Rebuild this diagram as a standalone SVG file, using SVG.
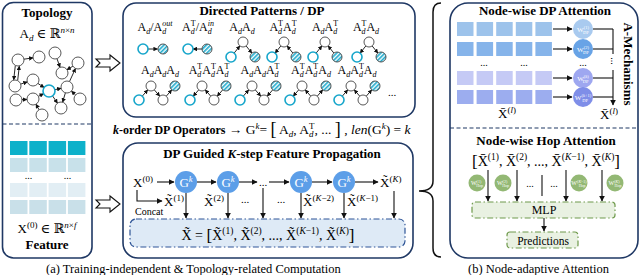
<svg xmlns="http://www.w3.org/2000/svg" width="640" height="275" viewBox="0 0 640 275">
<defs>
<style>
text{font-family:"Liberation Serif","Times New Roman","DejaVu Serif",serif}
.ttl{font-weight:bold;font-size:13px}
.pl{font-size:12px}
.s{font-size:8px}
.i{font-style:italic}
.panel{fill:#fff;stroke:#1f3864;stroke-width:1.6}
.div{stroke:#1f3864;stroke-width:1.2;stroke-dasharray:4 2.5}
.gn{fill:#fff;stroke:#444;stroke-width:0.9}
.cn{fill:#fff;stroke:#17a6cb;stroke-width:1.6}
.hn{fill:url(#hatch);stroke:#444;stroke-width:0.9}
.e{stroke:#111;stroke-width:0.9;fill:none;marker-end:url(#ah)}
.a{stroke:#111;stroke-width:1.1;fill:none;marker-end:url(#ah2)}
.ln{stroke:#111;stroke-width:1.1;fill:none}
.wt{fill:#fff}
.dd{stroke-width:1.2;stroke-dasharray:6 2.5 1.5 2.5}
</style>
<pattern id="hatch" patternUnits="userSpaceOnUse" width="3" height="3" patternTransform="rotate(45)"><rect width="3" height="3" fill="#fff"/><rect width="1.6" height="3" fill="#1aa9cc"/></pattern>
<marker id="ah" viewBox="0 0 10 10" refX="9" refY="5" markerWidth="4.5" markerHeight="4.5" markerUnits="userSpaceOnUse" orient="auto"><path d="M0,0 L10,5 L0,10 z" fill="#111"/></marker>
<marker id="ah2" viewBox="0 0 10 10" refX="9" refY="5" markerWidth="6" markerHeight="6" markerUnits="userSpaceOnUse" orient="auto"><path d="M0,0 L10,5 L0,10 z" fill="#111"/></marker>
</defs>
<rect width="640" height="275" fill="#fff"/>

<!-- Left panel -->
<g id="left-panel">
<rect x="2.5" y="2.5" width="89.5" height="255.5" rx="11" class="panel"/>
<line x1="2.5" y1="124" x2="92" y2="124" class="div"/>
<text x="47" y="17" class="ttl" font-size="14" text-anchor="middle">Topology</text>
<text x="47" y="38" font-size="13" text-anchor="middle">A<tspan class="i" font-size="9" dy="2.5">d</tspan><tspan dy="-2.5"> ∈ ℝ</tspan><tspan class="i" font-size="9" dy="-5">n</tspan><tspan font-size="9">×</tspan><tspan class="i" font-size="9">n</tspan></text>
</g>

<g id="topology-graph">
<g>
<line x1="23.9" y1="59.2" x2="33.1" y2="57.8" class="e"/>
<line x1="15.3" y1="65.7" x2="13.7" y2="79.8" class="e"/>
<line x1="17.7" y1="80.3" x2="19.3" y2="66.2" class="e"/>
<line x1="20.7" y1="84.1" x2="27.3" y2="81.9" class="e"/>
<line x1="37.9" y1="83.4" x2="44.1" y2="87.6" class="e"/>
<line x1="22" y1="99.6" x2="27" y2="99.4" class="e"/>
<line x1="38.4" y1="96.3" x2="43.6" y2="93.7" class="e"/>
<line x1="39.1" y1="109.8" x2="35.9" y2="104.2" class="e"/>
<line x1="54.9" y1="89.7" x2="61.1" y2="88.3" class="e"/>
<line x1="57" y1="58.7" x2="60" y2="67.3" class="e"/>
<line x1="72.9" y1="66.2" x2="66.9" y2="69.8" class="e"/>
<line x1="69.5" y1="81.5" x2="75.5" y2="68.5" class="e"/>
<line x1="65.4" y1="92.8" x2="62.6" y2="102.2" class="e"/>
<line x1="75.6" y1="94.9" x2="71.4" y2="91.1" class="e"/>
<line x1="52.5" y1="95.9" x2="57.5" y2="103.1" class="e"/>
</g>
<circle cx="18" cy="60" r="6" class="gn"/>
<circle cx="39" cy="57" r="6" class="gn"/>
<circle cx="55" cy="53" r="6" class="gn"/>
<circle cx="78" cy="63" r="6" class="gn"/>
<circle cx="62" cy="73" r="6" class="gn"/>
<circle cx="15" cy="86" r="6" class="gn"/>
<circle cx="33" cy="80" r="6" class="gn"/>
<circle cx="49" cy="91" r="6" class="cn"/>
<circle cx="67" cy="87" r="6" class="gn"/>
<circle cx="16" cy="100" r="6" class="gn"/>
<circle cx="33" cy="99" r="6" class="gn"/>
<circle cx="61" cy="108" r="6" class="gn"/>
<circle cx="80" cy="99" r="6" class="gn"/>
<circle cx="42" cy="115" r="6" class="gn"/>
</g>

<g id="feature">
<g fill="#0db1ca"><rect x="10" y="141" width="17.5" height="14"/><rect x="29.3" y="141" width="17.5" height="14"/><rect x="48.6" y="141" width="17.5" height="14"/><rect x="67.9" y="141" width="17.5" height="14"/></g>
<g fill="#c8e1ea"><rect x="10" y="158" width="17.5" height="14"/><rect x="29.3" y="158" width="17.5" height="14"/><rect x="48.6" y="158" width="17.5" height="14"/><rect x="67.9" y="158" width="17.5" height="14"/></g>
<text x="28.5" y="179" font-size="10" text-anchor="middle">...</text>
<text x="67.5" y="179" font-size="10" text-anchor="middle">...</text>
<g fill="#e2eef4"><rect x="10" y="183" width="17.5" height="14"/><rect x="29.3" y="183" width="17.5" height="14"/><rect x="48.6" y="183" width="17.5" height="14"/><rect x="67.9" y="183" width="17.5" height="14"/></g>
<g fill="#c9e0e9"><rect x="10" y="200" width="17.5" height="14"/><rect x="29.3" y="200" width="17.5" height="14"/><rect x="48.6" y="200" width="17.5" height="14"/><rect x="67.9" y="200" width="17.5" height="14"/></g>
<text x="47" y="233" font-size="13" text-anchor="middle">X<tspan font-size="9" dy="-5">(0)</tspan><tspan dy="5"> ∈ ℝ</tspan><tspan class="i" font-size="9" dy="-5">n</tspan><tspan font-size="9">×</tspan><tspan class="i" font-size="9">f</tspan></text>
<text x="47" y="249" class="ttl" text-anchor="middle">Feature</text>
</g>

<g id="connectors-main">
<path d="M96,59 L110,59 L110,55 L120,63 L110,71 L110,67 L96,67 L100,63 Z" fill="#fff" stroke="#111" stroke-width="1.1"/>
<path d="M96,200 L110,200 L110,196 L120,204 L110,212 L110,208 L96,208 L100,204 Z" fill="#fff" stroke="#111" stroke-width="1.1"/>
<path d="M441,3 Q433,3 433,12 L433,181 Q433,191 419,191 Q433,191 433,201 L433,248 Q433,257 441,257" fill="none" stroke="#111" stroke-width="1.5"/>
</g>

<!-- Directed patterns panel -->
<g id="dp-panel">
<rect x="123" y="3" width="292" height="114" rx="13" class="panel"/>
<text x="262" y="15" class="ttl" text-anchor="middle">Directed Patterns / DP</text>
</g>

<g id="dp-patterns">
<text x="155" y="31" class="pl" text-anchor="middle">A<tspan class="s i" dy="3">d</tspan><tspan dy="-3">/A</tspan><tspan class="s i" dy="3">d</tspan><tspan class="s i" dx="-4" dy="-8">out</tspan></text>
<text x="198" y="31" class="pl" text-anchor="middle">A<tspan class="s i" dy="3">d</tspan><tspan class="s" dx="-4" dy="-8">T</tspan><tspan dy="5">/A</tspan><tspan class="s i" dy="3">d</tspan><tspan class="s i" dx="-4" dy="-8">in</tspan></text>
<text x="242" y="31" class="pl" text-anchor="middle">A<tspan class="s i" dy="3">d</tspan><tspan dy="-3">A</tspan><tspan class="s i" dy="3">d</tspan></text>
<text x="283" y="31" class="pl" text-anchor="middle">A<tspan class="s i" dy="3">d</tspan><tspan class="s" dx="-4" dy="-8">T</tspan><tspan dy="5">A</tspan><tspan class="s i" dy="3">d</tspan><tspan class="s" dx="-4" dy="-8">T</tspan></text>
<text x="325" y="31" class="pl" text-anchor="middle">A<tspan class="s i" dy="3">d</tspan><tspan dy="-3">A</tspan><tspan class="s i" dy="3">d</tspan><tspan class="s" dx="-4" dy="-8">T</tspan></text>
<text x="366" y="31" class="pl" text-anchor="middle">A<tspan class="s i" dy="3">d</tspan><tspan class="s" dx="-4" dy="-8">T</tspan><tspan dy="5">A</tspan><tspan class="s i" dy="3">d</tspan></text>
<line x1="148" y1="49" x2="157.5" y2="49" class="e"/>
<circle cx="143" cy="49" r="5" class="cn"/><circle cx="163" cy="49" r="5" class="hn"/>
<line x1="202" y1="49" x2="193" y2="49" class="e"/>
<circle cx="188" cy="49" r="5" class="cn"/><circle cx="207" cy="49" r="5" class="hn"/>
<g transform="translate(243,0)">
<line x1="-8.88" y1="53.1" x2="-3.12" y2="45.9" class="e"/><line x1="3.12" y1="45.9" x2="8.88" y2="53.1" class="e"/>
<circle cx="0" cy="42" r="5" class="gn"/><circle cx="-12" cy="57" r="5" class="cn"/><circle cx="12" cy="57" r="5" class="hn"/>
</g>
<g transform="translate(284,0)">
<line x1="-3.12" y1="45.9" x2="-8.88" y2="53.1" class="e"/><line x1="8.88" y1="53.1" x2="3.12" y2="45.9" class="e"/>
<circle cx="0" cy="42" r="5" class="gn"/><circle cx="-12" cy="57" r="5" class="cn"/><circle cx="12" cy="57" r="5" class="hn"/>
</g>
<g transform="translate(325,0)">
<line x1="-8.88" y1="53.1" x2="-3.12" y2="45.9" class="e"/><line x1="8.88" y1="53.1" x2="3.12" y2="45.9" class="e"/>
<circle cx="0" cy="42" r="5" class="gn"/><circle cx="-12" cy="57" r="5" class="cn"/><circle cx="12" cy="57" r="5" class="hn"/>
</g>
<g transform="translate(369,0)">
<line x1="-3.12" y1="45.9" x2="-8.88" y2="53.1" class="e"/><line x1="3.12" y1="45.9" x2="8.88" y2="53.1" class="e"/>
<circle cx="0" cy="42" r="5" class="gn"/><circle cx="-12" cy="57" r="5" class="cn"/><circle cx="12" cy="57" r="5" class="hn"/>
</g>
<text x="160" y="74" class="pl" text-anchor="middle">A<tspan class="s i" dy="3">d</tspan><tspan dy="-3">A</tspan><tspan class="s i" dy="3">d</tspan><tspan dy="-3">A</tspan><tspan class="s i" dy="3">d</tspan></text>
<text x="209" y="74" class="pl" text-anchor="middle">A<tspan class="s i" dy="3">d</tspan><tspan class="s" dx="-4" dy="-8">T</tspan><tspan dy="5">A</tspan><tspan class="s i" dy="3">d</tspan><tspan class="s" dx="-4" dy="-8">T</tspan><tspan dy="5">A</tspan><tspan class="s i" dy="3">d</tspan><tspan class="s" dx="-4" dy="-8">T</tspan></text>
<text x="260" y="74" class="pl" text-anchor="middle">A<tspan class="s i" dy="3">d</tspan><tspan dy="-3">A</tspan><tspan class="s i" dy="3">d</tspan><tspan dy="-3">A</tspan><tspan class="s i" dy="3">d</tspan><tspan class="s" dx="-4" dy="-8">T</tspan></text>
<text x="311" y="74" class="pl" text-anchor="middle">A<tspan class="s i" dy="3">d</tspan><tspan class="s" dx="-4" dy="-8">T</tspan><tspan dy="5">A</tspan><tspan class="s i" dy="3">d</tspan><tspan class="s" dx="-4" dy="-8">T</tspan><tspan dy="5">A</tspan><tspan class="s i" dy="3">d</tspan></text>
<text x="357" y="74" class="pl" text-anchor="middle">A<tspan class="s i" dy="3">d</tspan><tspan dy="-3">A</tspan><tspan class="s i" dy="3">d</tspan><tspan class="s" dx="-4" dy="-8">T</tspan><tspan dy="5">A</tspan><tspan class="s i" dy="3">d</tspan></text>
<g transform="translate(139,0)">
<line x1="3.25" y1="96.2" x2="8.75" y2="89.8" class="e"/><line x1="15.25" y1="89.8" x2="20.75" y2="96.2" class="e"/><line x1="27.25" y1="96.2" x2="32.75" y2="89.8" class="e"/>
<circle cx="0" cy="100" r="5" class="cn"/><circle cx="12" cy="86" r="5" class="gn"/><circle cx="24" cy="100" r="5" class="gn"/><circle cx="36" cy="86" r="5" class="hn"/>
</g>
<g transform="translate(190,0)">
<line x1="8.75" y1="89.8" x2="3.25" y2="96.2" class="e"/><line x1="20.75" y1="96.2" x2="15.25" y2="89.8" class="e"/><line x1="32.75" y1="89.8" x2="27.25" y2="96.2" class="e"/>
<circle cx="0" cy="100" r="5" class="cn"/><circle cx="12" cy="86" r="5" class="gn"/><circle cx="24" cy="100" r="5" class="gn"/><circle cx="36" cy="86" r="5" class="hn"/>
</g>
<g transform="translate(240,0)">
<line x1="3.25" y1="96.2" x2="8.75" y2="89.8" class="e"/><line x1="15.25" y1="89.8" x2="20.75" y2="96.2" class="e"/><line x1="32.75" y1="89.8" x2="27.25" y2="96.2" class="e"/>
<circle cx="0" cy="100" r="5" class="cn"/><circle cx="12" cy="86" r="5" class="gn"/><circle cx="24" cy="100" r="5" class="gn"/><circle cx="36" cy="86" r="5" class="hn"/>
</g>
<g transform="translate(290,0)">
<line x1="8.75" y1="89.8" x2="3.25" y2="96.2" class="e"/><line x1="20.75" y1="96.2" x2="15.25" y2="89.8" class="e"/><line x1="27.25" y1="96.2" x2="32.75" y2="89.8" class="e"/>
<circle cx="0" cy="100" r="5" class="cn"/><circle cx="12" cy="86" r="5" class="gn"/><circle cx="24" cy="100" r="5" class="gn"/><circle cx="36" cy="86" r="5" class="hn"/>
</g>
<g transform="translate(339,0)">
<line x1="3.25" y1="96.2" x2="8.75" y2="89.8" class="e"/><line x1="20.75" y1="96.2" x2="15.25" y2="89.8" class="e"/><line x1="27.25" y1="96.2" x2="32.75" y2="89.8" class="e"/>
<circle cx="0" cy="100" r="5" class="cn"/><circle cx="12" cy="86" r="5" class="gn"/><circle cx="24" cy="100" r="5" class="gn"/><circle cx="36" cy="86" r="5" class="hn"/>
</g>
<text x="392" y="96" font-size="11" text-anchor="middle">...</text>
</g>

<g id="operator-line">
<text x="113" y="134" font-size="12"><tspan font-weight="bold"><tspan class="i">k</tspan>-order DP Operators</tspan><tspan font-size="13.5"> → G</tspan><tspan font-size="9" class="i" dy="-5">k</tspan><tspan font-size="13.5" dy="5">= </tspan><tspan font-size="18" dy="1">[</tspan><tspan font-size="13.5" dy="-1"> A</tspan><tspan font-size="9" class="i" dy="3">d</tspan><tspan font-size="13.5" dy="-3">, A</tspan><tspan font-size="9" class="i" dy="3">d</tspan><tspan font-size="9" dx="-4.5" dy="-8.5">T</tspan><tspan font-size="13.5" dy="5.5">, ... </tspan><tspan font-size="18" dy="1">]</tspan><tspan font-size="13.5" dy="-1"> , </tspan><tspan font-size="13.5" class="i">len</tspan><tspan font-size="13.5">(G</tspan><tspan font-size="9" dy="-5" class="i">k</tspan><tspan font-size="13.5" dy="5">) = </tspan><tspan font-size="13.5" class="i">k</tspan></text>
</g>

<!-- Propagation panel -->
<g id="prop-panel">
<rect x="123" y="143" width="290" height="115" rx="15" class="panel"/>
<text x="272" y="158" class="ttl" text-anchor="middle">DP Guided <tspan class="i">K</tspan>-step Feature Propagation</text>
<rect x="130" y="219" width="275" height="28" rx="6" fill="#deeaf6" stroke="#2f5597" class="dd"/>
<text x="268" y="240" font-size="14" text-anchor="middle">X̃ = <tspan font-size="17" dy="1">[</tspan><tspan dy="-1">X̃</tspan><tspan font-size="9.5" dy="-6">(1)</tspan><tspan dy="6">, X̃</tspan><tspan font-size="9.5" dy="-6">(2)</tspan><tspan dy="6">, ..., X̃</tspan><tspan font-size="9.5" dy="-6">(<tspan class="i">K</tspan>−1)</tspan><tspan dy="6">, X̃</tspan><tspan font-size="9.5" dy="-6">(<tspan class="i">K</tspan>)</tspan><tspan font-size="17" dy="7">]</tspan></text>
</g>

<g id="prop-nodes">
<text x="133" y="187" font-size="13">X<tspan font-size="9" dy="-5">(0)</tspan></text>
<g id="g1"><circle cx="186" cy="182" r="11" fill="#5c9ee8"/><text x="186" y="186.5" font-size="13" text-anchor="middle" class="wt" font-family="Liberation Sans, Arial, sans-serif">G<tspan font-size="8.5" dy="-5" class="i">k</tspan></text></g>
<g id="g2"><circle cx="228" cy="182" r="11" fill="#5c9ee8"/><text x="228" y="186.5" font-size="13" text-anchor="middle" class="wt" font-family="Liberation Sans, Arial, sans-serif">G<tspan font-size="8.5" dy="-5" class="i">k</tspan></text></g>
<g id="g3"><circle cx="301" cy="182" r="11" fill="#5c9ee8"/><text x="301" y="186.5" font-size="13" text-anchor="middle" class="wt" font-family="Liberation Sans, Arial, sans-serif">G<tspan font-size="8.5" dy="-5" class="i">k</tspan></text></g>
<g id="g4"><circle cx="344" cy="182" r="11" fill="#5c9ee8"/><text x="344" y="186.5" font-size="13" text-anchor="middle" class="wt" font-family="Liberation Sans, Arial, sans-serif">G<tspan font-size="8.5" dy="-5" class="i">k</tspan></text></g>
<text x="380" y="187" font-size="13">X̃<tspan font-size="9" dy="-5">(<tspan class="i">K</tspan>)</tspan></text>
<text x="164" y="206" font-size="13">X̃<tspan font-size="9" dy="-5">(1)</tspan></text>
<text x="204" y="206" font-size="13">X̃<tspan font-size="9" dy="-5">(2)</tspan></text>
<text x="303" y="206" font-size="13">X̃<tspan font-size="9" dy="-5">(<tspan class="i">K</tspan>−2)</tspan></text>
<text x="347" y="206" font-size="13">X̃<tspan font-size="9" dy="-5">(<tspan class="i">K</tspan>−1)</tspan></text>
<text x="245" y="203" font-size="11" text-anchor="middle">...</text>
<text x="281" y="203" font-size="11" text-anchor="middle">...</text>
<text x="263" y="186" font-size="11" text-anchor="middle">...</text>
<text x="135" y="215" font-size="10">Concat</text>
</g>

<g id="prop-connectors">
<line x1="157" y1="182" x2="174" y2="182" class="a"/>
<line x1="197" y1="182" x2="216" y2="182" class="a"/>
<line x1="239" y1="182" x2="257" y2="182" class="a"/>
<line x1="269" y1="182" x2="289" y2="182" class="a"/>
<line x1="312" y1="182" x2="332" y2="182" class="a"/>
<line x1="355" y1="182" x2="378" y2="182" class="a"/>
<polyline points="137,190 137,201 162,201" class="a"/>
<line x1="186" y1="193" x2="186" y2="218" class="a"/>
<line x1="228" y1="193" x2="228" y2="218" class="a"/>
<line x1="263" y1="188" x2="263" y2="218" class="a"/>
<line x1="301" y1="193" x2="301" y2="218" class="a"/>
<line x1="344" y1="193" x2="344" y2="218" class="a"/>
<line x1="394" y1="191" x2="394" y2="218" class="a"/>
</g>

<!-- Right panel -->
<g id="right-panel">
<rect x="450" y="3" width="188" height="255" rx="18" class="panel"/>
<line x1="450" y1="128" x2="638" y2="128" class="div"/>
<text x="545" y="15" class="ttl" text-anchor="middle">Node-wise DP Attention</text>
<text x="546" y="145" class="ttl" text-anchor="middle">Node-wise Hop Attention</text>
</g>

<g id="dp-attention">
<g fill="#9dc3eb"><rect x="457" y="22" width="16.5" height="14"/><rect x="476.6" y="22" width="16.5" height="14"/><rect x="496.2" y="22" width="16.5" height="14"/><rect x="515.8" y="22" width="16.5" height="14"/><rect x="535.4" y="22" width="16.5" height="14"/></g>
<g fill="#86b4ea"><rect x="457" y="42" width="16.5" height="14"/><rect x="476.6" y="42" width="16.5" height="14"/><rect x="496.2" y="42" width="16.5" height="14"/><rect x="515.8" y="42" width="16.5" height="14"/><rect x="535.4" y="42" width="16.5" height="14"/></g>
<text x="484" y="66" font-size="10" text-anchor="middle">...</text>
<text x="524" y="66" font-size="10" text-anchor="middle">...</text>
<g fill="#c5caf5"><rect x="457" y="71" width="16.5" height="14"/><rect x="476.6" y="71" width="16.5" height="14"/><rect x="496.2" y="71" width="16.5" height="14"/><rect x="515.8" y="71" width="16.5" height="14"/><rect x="535.4" y="71" width="16.5" height="14"/></g>
<g fill="#9cadef"><rect x="457" y="90" width="16.5" height="14"/><rect x="476.6" y="90" width="16.5" height="14"/><rect x="496.2" y="90" width="16.5" height="14"/><rect x="515.8" y="90" width="16.5" height="14"/><rect x="535.4" y="90" width="16.5" height="14"/></g>
<text x="507" y="118" font-size="13" text-anchor="middle">X̄<tspan font-size="9" dy="-5">(<tspan class="i">l</tspan>)</tspan></text>
<g id="wdp1"><circle cx="583" cy="29" r="10" fill="#a9caef"/><text x="583" y="31.5" font-size="7" text-anchor="middle" class="wt">W<tspan font-size="4.5" dy="-3">(1)</tspan><tspan font-size="4.5" dx="-6" dy="5">DP</tspan></text></g>
<g id="wdp2"><circle cx="583" cy="49" r="10" fill="#68a3e6"/><text x="583" y="51.5" font-size="7" text-anchor="middle" class="wt">W<tspan font-size="4.5" dy="-3">(2)</tspan><tspan font-size="4.5" dx="-6" dy="5">DP</tspan></text></g>
<text x="583" y="66" font-size="10" text-anchor="middle">...</text>
<g id="wdp3"><circle cx="583" cy="78" r="10" fill="#9ea7f0"/><text x="583" y="80.5" font-size="7" text-anchor="middle" class="wt">W<tspan font-size="4.5" dy="-3">(<tspan class="i">k</tspan>)</tspan><tspan font-size="4.5" dx="-6" dy="5">DP</tspan></text></g>
<g id="wdp4"><circle cx="583" cy="97" r="10" fill="#7f8ee8"/><text x="583" y="99.5" font-size="7" text-anchor="middle" class="wt">W<tspan font-size="4.5" dy="-3">(<tspan class="i">k</tspan>+1)</tspan><tspan font-size="4.5" dx="-9" dy="5">DP</tspan></text></g>
<text x="609" y="119" font-size="13" text-anchor="middle">X̄<tspan font-size="9" dy="-5">(<tspan class="i">l</tspan>)</tspan></text>
<text transform="translate(624,64) rotate(90)" class="ttl" font-size="11.5" text-anchor="middle">A-Mechanisms</text>
<text x="613" y="63" font-size="10" text-anchor="middle" transform="rotate(90 613 61)">...</text>
</g>

<g id="dp-attention-connectors">
<line x1="553" y1="29" x2="572" y2="29" class="a"/>
<line x1="553" y1="49" x2="572" y2="49" class="a"/>
<line x1="553" y1="78" x2="572" y2="78" class="a"/>
<line x1="553" y1="97" x2="572" y2="97" class="a"/>
<line x1="593" y1="29" x2="613" y2="29" class="ln"/>
<line x1="593" y1="49" x2="613" y2="49" class="ln"/>
<line x1="593" y1="78" x2="613" y2="78" class="ln"/>
<line x1="593" y1="97" x2="613" y2="97" class="ln"/>
<line x1="613" y1="29" x2="613" y2="54" class="ln"/>
<line x1="613" y1="70" x2="613" y2="105" class="a"/>
</g>

<g id="hop-attention">
<text x="546" y="166" font-size="14" text-anchor="middle"><tspan font-size="17" dy="1">[</tspan><tspan dy="-1">X̄</tspan><tspan font-size="9.5" dy="-6">(1)</tspan><tspan dy="6">, X̄</tspan><tspan font-size="9.5" dy="-6">(2)</tspan><tspan dy="6">, ..., X̄</tspan><tspan font-size="9.5" dy="-6">(<tspan class="i">K</tspan>−1)</tspan><tspan dy="6">, X̄</tspan><tspan font-size="9.5" dy="-6">(<tspan class="i">K</tspan>)</tspan><tspan font-size="17" dy="7">]</tspan></text>
<g id="wh1"><circle cx="477" cy="183" r="8.5" fill="#93b874"/><text x="477" y="185" font-size="6" text-anchor="middle" class="wt">W<tspan font-size="4" dy="-2.5">(1)</tspan><tspan font-size="4" dx="-5" dy="4.5">Hop</tspan></text></g>
<g id="wh2"><circle cx="503" cy="183" r="8.5" fill="#93b874"/><text x="503" y="185" font-size="6" text-anchor="middle" class="wt">W<tspan font-size="4" dy="-2.5">(2)</tspan><tspan font-size="4" dx="-5" dy="4.5">Hop</tspan></text></g>
<g id="wh3"><circle cx="579" cy="183" r="8.5" fill="#93b874"/><text x="579" y="185" font-size="6" text-anchor="middle" class="wt">W<tspan font-size="4" dy="-2.5">(<tspan class="i">K</tspan>−1)</tspan><tspan font-size="4" dx="-8" dy="4.5">Hop</tspan></text></g>
<g id="wh4"><circle cx="615" cy="183" r="8.5" fill="#93b874"/><text x="615" y="185" font-size="6" text-anchor="middle" class="wt">W<tspan font-size="4" dy="-2.5">(<tspan class="i">K</tspan>)</tspan><tspan font-size="4" dx="-5" dy="4.5">Hop</tspan></text></g>
<text x="530" y="187" font-size="10" text-anchor="middle">...</text>
<text x="554" y="187" font-size="10" text-anchor="middle">...</text>
<g id="mlp"><rect x="472" y="202" width="143" height="16" rx="3" fill="#e9f1e2" stroke="#6f9a4c" class="dd"/><text x="544" y="214" font-size="12" text-anchor="middle">MLP</text></g>
<g id="predictions"><rect x="507" y="232" width="71" height="16" rx="3" fill="#e9f1e2" stroke="#6f9a4c" class="dd"/><text x="543" y="244.5" font-size="11.5" text-anchor="middle">Predictions</text></g>
</g>

<g id="hop-connectors">
<line x1="488" y1="170" x2="488" y2="201" class="a"/>
<line x1="517" y1="170" x2="517" y2="201" class="a"/>
<line x1="542" y1="175" x2="542" y2="196" class="ln"/>
<line x1="566" y1="170" x2="566" y2="201" class="a"/>
<line x1="602" y1="170" x2="602" y2="201" class="a"/>
<line x1="544" y1="218" x2="544" y2="231" class="a"/>
</g>

<g id="captions">
<text x="46" y="273" font-size="12.5">(a) Training-independent &amp; Topology-related Computation</text>
<text x="468" y="273" font-size="12.5">(b) Node-adaptive Attention</text>
</g>
</svg>
